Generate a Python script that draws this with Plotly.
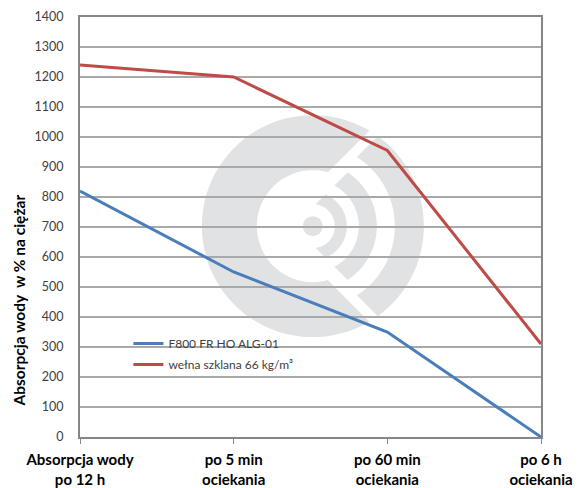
import math
import plotly.graph_objects as go

categories = ["Absorpcja wody<br>po 12 h", "po 5 min<br>ociekania",
              "po 60 min<br>ociekania", "po 6 h<br>ociekania"]
series_names = ["F800 FR HO ALG-01", "wełna szklana 66 kg/m³"]
f800_values = [820, 550, 350, 0]
welna_values = [1240, 1200, 955, 310]
y_ticks = list(range(0, 1401, 100))

BLUE = "#4a7ebb"
RED = "#be4b48"
WM = "#e1e2e3"
FONT = "Lato, 'Open Sans', sans-serif"

fig = go.Figure()
fig.add_trace(go.Scatter(x=categories, y=f800_values, mode="lines", name=series_names[0],
                         line=dict(color=BLUE, width=3), legendgroup="a"))
fig.add_trace(go.Scatter(x=categories, y=welna_values, mode="lines", name=series_names[1],
                         line=dict(color=RED, width=3), legendgroup="b"))


# ---- watermark logo (decoration) ----
def pt(r, a):
    return r * math.cos(math.radians(a)), r * math.sin(math.radians(a))


def band_path(r_in, r_out, a0_out, a1_out, a0_in, a1_in, n=60):
    pts = []
    for i in range(n + 1):
        a = a0_out + (a1_out - a0_out) * i / n
        pts.append(pt(r_out, a))
    for i in range(n + 1):
        a = a1_in + (a0_in - a1_in) * i / n
        pts.append(pt(r_in, a))
    s = "M " + " L ".join(f"{x:.2f},{y:.2f}" for x, y in pts) + " Z"
    return s


def cut_angle(r, c):
    return 45 + math.degrees(math.asin(c / (r * math.sqrt(2))))


paths = []
# big C ring (open on the right)
paths.append(band_path(56, 111, cut_angle(111, 39), 360 - cut_angle(111, 39),
                       cut_angle(56, 39), 360 - cut_angle(56, 39)))
# arcs inside the opening
for r_in, r_out, c in [(82, 111, 25), (46, 64, 19), (22, 34, 19)]:
    ao = cut_angle(r_out, c)
    ai = cut_angle(r_in, c)
    paths.append(band_path(r_in, r_out, -ao, ao, -ai, ai))

shapes = []
for p in paths:
    shapes.append(dict(type="path", path=p, xref="paper", yref="paper",
                       xsizemode="pixel", ysizemode="pixel", xanchor=0.505, yanchor=0.502,
                       fillcolor=WM, line=dict(width=0), layer="below"))
shapes.append(dict(type="circle", xref="paper", yref="paper", xsizemode="pixel",
                   ysizemode="pixel", xanchor=0.505, yanchor=0.502,
                   x0=-10, x1=10, y0=-10, y1=10,
                   fillcolor=WM, line=dict(width=0), layer="below"))

# page body has an 8px margin, so the figure is sized/offset to compensate
fig.update_layout(
    width=579, height=480,
    margin=dict(l=72, r=46, t=9, b=51),
    paper_bgcolor="white", plot_bgcolor="white",
    font=dict(family=FONT, color="#404040"),
    shapes=shapes,
    showlegend=True,
    legend=dict(x=0.105, y=0.257, xanchor="left", yanchor="top",
                bgcolor="rgba(0,0,0,0)", font=dict(size=12, color="#404040"),
                tracegroupgap=2, itemwidth=30),
    annotations=[dict(text="<b>Absorpcja wody  w % na ciężar</b>", xref="paper", yref="paper",
                      x=-0.133, y=0.324, xanchor="center", yanchor="middle", textangle=-90,
                      showarrow=False, font=dict(size=15.5, color="black", family=FONT))],
)
fig.update_xaxes(type="category", range=[0, 3], showgrid=False, automargin=False,
                 showline=True, linecolor="#868686", linewidth=2, mirror=True,
                 ticks="outside", ticklen=5, tickcolor="#868686", tickwidth=1,
                 tickfont=dict(size=15, color="black", family=FONT),
                 tickprefix="<b>", ticksuffix="</b>", ticklabelstandoff=3)
fig.update_yaxes(range=[0, 1400], tickvals=y_ticks, showgrid=True, gridcolor="#a9a9a9",
                 gridwidth=1.5, zeroline=False, automargin=False,
                 showline=True, linecolor="#868686", linewidth=2, mirror=True,
                 ticks="", tickfont=dict(size=12.5, color="#404040", family=FONT),
                 ticklabelstandoff=12)

fig.write_html("out.html")
